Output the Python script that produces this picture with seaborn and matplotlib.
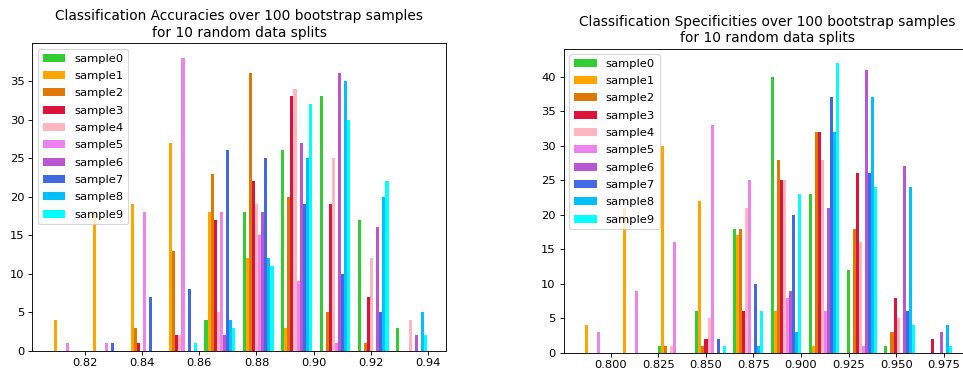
import numpy as np
import pandas as pd
import matplotlib
matplotlib.use("Agg")
import matplotlib.pyplot as plt
import seaborn as sns

samples = [f"sample{i}" for i in range(10)]
colors = ["#32CD32", "#FFA500", "#E07700", "#DC143C", "#FFB6C1",
          "#EE82EE", "#BA55D3", "#4169E1", "#00BFFF", "#00FFFF"]

# Accuracy histogram: 10 bins between these edges
acc_lo, acc_hi = 0.80668, 0.94107
acc_counts = {
    "sample0": [0, 0, 0, 0, 4, 18, 26, 33, 17, 3],
    "sample1": [4, 18, 19, 27, 18, 12, 3, 0, 0, 0],
    "sample2": [0, 0, 3, 13, 23, 36, 20, 5, 1, 0],
    "sample3": [0, 0, 1, 2, 17, 22, 33, 19, 7, 0],
    "sample4": [0, 0, 0, 2, 5, 19, 34, 25, 12, 4],
    "sample5": [1, 1, 18, 38, 18, 15, 9, 1, 0, 0],
    "sample6": [0, 0, 0, 0, 2, 18, 27, 36, 16, 2],
    "sample7": [0, 1, 7, 8, 26, 25, 19, 10, 5, 0],
    "sample8": [0, 0, 0, 0, 4, 12, 25, 35, 20, 5],
    "sample9": [0, 0, 0, 1, 3, 11, 32, 30, 22, 2],
}

# Specificity histogram
spe_lo, spe_hi = 0.78305, 0.98153
spe_counts = {
    "sample0": [0, 0, 1, 6, 18, 40, 23, 12, 1, 0],
    "sample1": [4, 21, 30, 22, 17, 6, 1, 0, 0, 0],
    "sample2": [0, 0, 1, 1, 18, 28, 32, 18, 3, 0],
    "sample3": [0, 0, 0, 2, 6, 25, 32, 26, 8, 2],
    "sample4": [0, 0, 1, 5, 21, 25, 28, 16, 5, 0],
    "sample5": [3, 9, 16, 33, 25, 8, 6, 1, 0, 0],
    "sample6": [0, 0, 0, 0, 0, 9, 21, 41, 27, 3],
    "sample7": [0, 0, 0, 2, 10, 20, 37, 26, 6, 0],
    "sample8": [0, 0, 0, 0, 1, 3, 32, 37, 24, 4],
    "sample9": [0, 0, 0, 1, 6, 23, 42, 24, 4, 1],
}

titles = ["Classification Accuracies over 100 bootstrap samples\nfor 10 random data splits",
          "Classification Specificities over 100 bootstrap samples\nfor 10 random data splits"]
n_bins = 10


def long_table(counts, lo, hi):
    edges = np.linspace(lo, hi, n_bins + 1)
    centers = (edges[:-1] + edges[1:]) / 2
    rows = []
    for s in samples:
        for c, n in zip(centers, counts[s]):
            rows.append({"value": c, "count": n, "split": s})
    return pd.DataFrame(rows), edges


W, H, DPI = 963, 370, 80
plt.rcParams["xtick.labelsize"] = 10.3
plt.rcParams["ytick.labelsize"] = 10.3
fig = plt.figure(figsize=(W / DPI, H / DPI), dpi=DPI)

boxes = [(32.3, 43.3, 445.7, 350.7), (563.5, 48.5, 971.0, 352.7)]
specs = [(acc_counts, acc_lo, acc_hi), (spe_counts, spe_lo, spe_hi)]

for (x0, y0, x1, y1), (counts, lo, hi), title in zip(boxes, specs, titles):
    ax = fig.add_axes([x0 / W, (H - y1) / H, (x1 - x0) / W, (y1 - y0) / H])
    df, edges = long_table(counts, lo, hi)
    sns.histplot(data=df, x="value", weights="count", hue="split",
                 hue_order=samples, palette=colors, bins=n_bins,
                 binrange=(lo, hi), multiple="dodge", shrink=0.8,
                 alpha=1, linewidth=0, ax=ax)
    bw = edges[1] - edges[0]
    dlo, dhi = edges[0] + 0.1 * bw, edges[-1] - 0.1 * bw
    m = 0.05 * (dhi - dlo)
    ax.set_xlim(dlo - m, dhi + m)
    ymax = max(max(v) for v in counts.values())
    ax.set_ylim(0, ymax * 1.05)
    ax.set_xlabel("")
    ax.set_ylabel("")
    ax.set_title(title, fontsize=12.4)
    sns.move_legend(ax, "upper left", title=None, fontsize=10.3,
                    labelspacing=0.64)

fig.savefig("out.png", dpi=DPI)
